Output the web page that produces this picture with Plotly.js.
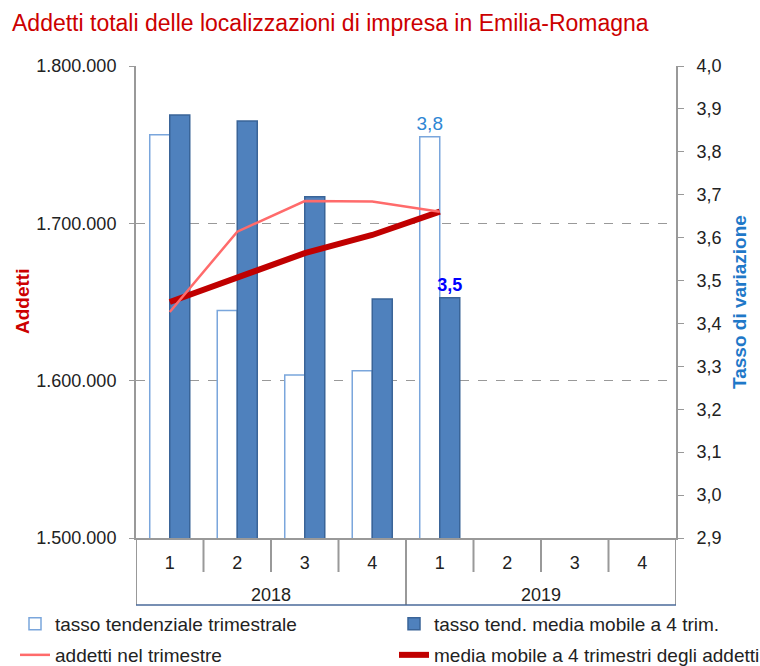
<!DOCTYPE html>
<html><head><meta charset="utf-8">
<script src="https://cdn.plot.ly/plotly-3.0.1.min.js"></script>
<style>html,body{margin:0;padding:0;background:#fff}#chart{width:760px;height:666px}</style>
</head><body><div id="chart"></div>
<script>
// ---- data ----
const quarters = ["1", "2", "3", "4", "1", "2", "3", "4"];
const years = ["2018", "2018", "2018", "2018", "2019", "2019", "2019", "2019"];
const tassoTendenziale = [3.84, 3.43, 3.28, 3.29, 3.835];
const tassoMediaMobile = [3.886, 3.872, 3.695, 3.457, 3.46];
const addettiTrimestre = [1643600, 1694700, 1714200, 1713800, 1707400];
const mediaMobileAddetti = [1650000, 1665600, 1681100, 1692600, 1707400];
const seriesNames = ["tasso tendenziale trimestrale", "tasso tend. media mobile a 4 trim.",
  "addetti nel trimestre", "media mobile a 4 trimestri degli addetti"];
const labelledPoint = 4;

// ---- helpers ----
const idx = arr => arr.map((_, i) => i);
const fmt1 = v => v.toFixed(1).replace('.', ',');
const lastLabel = arr => arr.map((v, i) => i === labelledPoint ? fmt1(v) : '');
const FONT = 'Liberation Sans, Arial, sans-serif';

const traces = [
  {type: 'bar', name: seriesNames[0], x: idx(tassoTendenziale), y: tassoTendenziale, yaxis: 'y',
   marker: {color: '#ffffff', line: {color: '#7aa6dc', width: 1.5}},
   text: lastLabel(tassoTendenziale), textposition: 'outside', constraintext: 'none', cliponaxis: false,
   textfont: {family: FONT, size: 19, color: '#2e86d4'}, legend: 'legend', hoverinfo: 'y'},
  {type: 'bar', name: seriesNames[1], x: idx(tassoMediaMobile), y: tassoMediaMobile, yaxis: 'y',
   marker: {color: '#4f81bd', line: {color: '#3a6498', width: 1.5}},
   text: lastLabel(tassoMediaMobile), textposition: 'outside', constraintext: 'none', cliponaxis: false,
   textfont: {family: FONT, size: 18, color: '#0000ff', weight: 'bold'}, legend: 'legend2', hoverinfo: 'y'},
  {type: 'scatter', mode: 'lines', name: seriesNames[3], x: idx(mediaMobileAddetti), y: mediaMobileAddetti, yaxis: 'y2',
   line: {color: '#c00000', width: 6}, legend: 'legend4'},
  {type: 'scatter', mode: 'lines', name: seriesNames[2], x: idx(addettiTrimestre), y: addettiTrimestre, yaxis: 'y2',
   line: {color: '#ff6b6b', width: 2.5}, legend: 'legend3'}
];

// category separators and year labels
const shapes = [];
const annotations = [];
const qDepth = -34 / 472, yDepth = -67 / 472;
for (let i = 0; i <= quarters.length; i++) {
  const isYear = i === 0 || i === quarters.length || years[i] !== years[i - 1];
  shapes.push({type: 'line', xref: 'x', yref: 'paper', x0: i - 0.5, x1: i - 0.5, y0: 0, y1: isYear ? yDepth : qDepth,
    line: {color: '#999999', width: 2}});
}
shapes.push({type: 'line', xref: 'x', yref: 'paper', x0: -0.5, x1: quarters.length - 0.5, y0: yDepth, y1: yDepth,
  line: {color: '#4a6a9a', width: 1.5}});
const uniqueYears = [...new Set(years)];
uniqueYears.forEach(yr => {
  const ids = years.map((y, i) => y === yr ? i : -1).filter(i => i >= 0);
  const mid = ids.reduce((a, b) => a + b, 0) / ids.length;
  annotations.push({xref: 'x', yref: 'paper', x: mid, y: -57 / 472, text: yr, showarrow: false,
    yanchor: 'middle', font: {family: FONT, size: 18, color: '#222'}});
});
// axis titles
annotations.push({xref: 'paper', yref: 'paper', x: -114 / 540, y: 0.5, text: 'Addetti', textangle: -90,
  showarrow: false, xanchor: 'center', yanchor: 'middle', font: {family: FONT, size: 19, color: '#cc0000', weight: 'bold'}});
annotations.push({xref: 'paper', yref: 'paper', x: 1 + 63 / 540, y: 0.5, text: 'Tasso di variazione', textangle: -90,
  showarrow: false, xanchor: 'center', yanchor: 'middle', font: {family: FONT, size: 19, color: '#1f78c8', weight: 'bold'}});

const legendBase = {xref: 'container', yref: 'container', xanchor: 'left', yanchor: 'top',
  orientation: 'h', font: {family: FONT, size: 19, color: '#222'}, bgcolor: 'rgba(0,0,0,0)', itemclick: false};
const row1 = 1 - 605 / 666, row2 = 1 - 636 / 666;
const col1 = 15 / 760, col2 = 394 / 760;

const layout = {
  width: 760, height: 666,
  margin: {l: 136, r: 84, t: 66, b: 128},
  paper_bgcolor: '#fff', plot_bgcolor: 'rgba(0,0,0,0)',
  separators: ',.',
  font: {family: FONT, size: 18, color: '#222'},
  title: {text: 'Addetti totali delle localizzazioni di impresa in Emilia-Romagna', xref: 'container', yref: 'container',
    x: 12 / 760, xanchor: 'left', y: 1 - 23 / 666, yanchor: 'middle', font: {family: FONT, size: 23, color: '#cc0000'}},
  barmode: 'group', bargap: 0.407, bargroupgap: 0,
  showlegend: true,
  xaxis: {range: [-0.5, quarters.length - 0.5], tickvals: idx(quarters), ticktext: quarters, ticks: '',
    showline: true, linecolor: '#999999', linewidth: 2, showgrid: false, zeroline: false, automargin: false,
    ticklabelstandoff: 7, tickfont: {family: FONT, size: 18, color: '#222'}},
  yaxis: {side: 'right', range: [2.9, 4.0], dtick: 0.1, tick0: 2.9, tickformat: '.1f', showgrid: false, zeroline: false,
    showline: true, linecolor: '#999999', linewidth: 2, ticks: 'outside', ticklen: 6, tickcolor: '#999999',
    ticklabelposition: 'outside', automargin: false, ticklabelstandoff: 9,
    tickfont: {family: FONT, size: 18, color: '#222'}},
  yaxis2: {overlaying: 'y', side: 'left', range: [1500000, 1800000], dtick: 100000, tickformat: ',d',
    showgrid: true, gridcolor: '#999999', griddash: 'dash', gridwidth: 1.5, zeroline: false, automargin: false,
    showline: true, linecolor: '#999999', linewidth: 2, ticks: 'outside', ticklen: 5, tickcolor: '#999999',
    ticklabelstandoff: 9, tickfont: {family: FONT, size: 18, color: '#222'}},
  legend: Object.assign({}, legendBase, {x: col1, y: row1}),
  legend2: Object.assign({}, legendBase, {x: col2, y: row1}),
  legend3: Object.assign({}, legendBase, {x: col1, y: row2}),
  legend4: Object.assign({}, legendBase, {x: col2, y: row2}),
  shapes: shapes,
  annotations: annotations
};

Plotly.newPlot('chart', traces, layout, {displayModeBar: false, staticPlot: true});
</script>
</body></html>
